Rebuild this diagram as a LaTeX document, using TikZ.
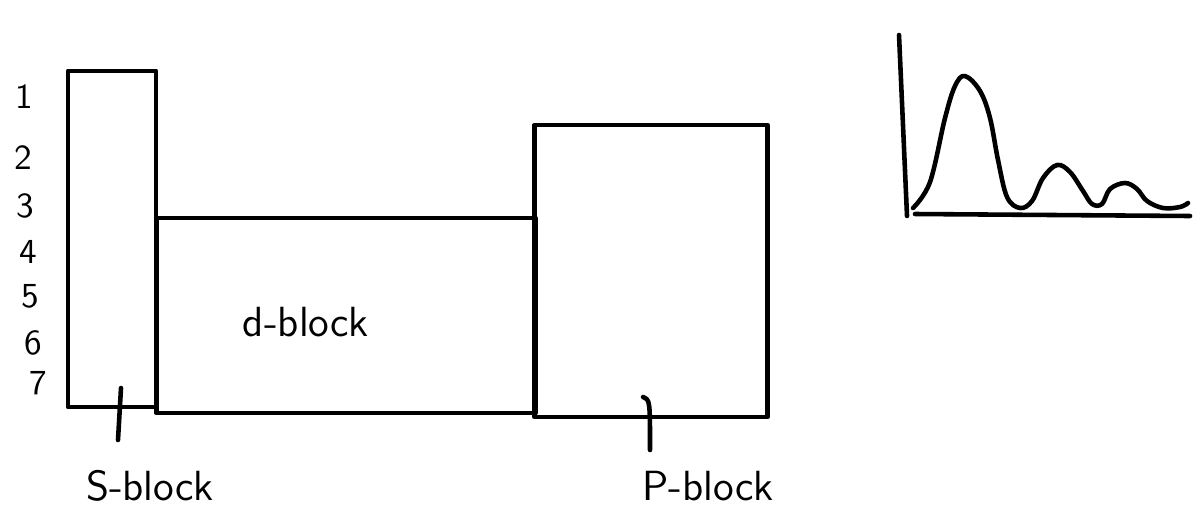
\documentclass[tikz,border=0pt]{standalone}
\usepackage{fontspec}
\begin{document}
\begin{tikzpicture}[
  x=0.01cm, y=-0.01cm,
  pen/.style={line width=1.3pt, line cap=round, line join=round},
  blockbox/.style={rectangle, draw, pen, inner sep=0pt},
  period/.style={font=\sffamily},
  blabel/.style={font=\sffamily\large},
  tick/.style={pen},
]
\useasboundingbox (0,0) rectangle (1195,512);

% ══ Column positions ══
\def\xs{112}
\def\xd{346}
\def\xp{651}

% ══ Period numbers ══
\node[period] (n1) at (24, 97) {1};
\node[period] (n2) at (23, 158) {2};
\node[period] (n3) at (25, 206) {3};
\node[period] (n4) at (28, 252) {4};
\node[period] (n5) at (30, 296) {5};
\node[period] (n6) at (33, 343) {6};
\node[period] (n7) at (38, 383) {7};

% ══ Blocks ══
\node[blockbox, minimum width=0.88cm, minimum height=3.36cm] (sblock) at (\xs, 239) {};
\node[blockbox, minimum width=3.79cm, minimum height=1.95cm] (dblock) at (\xd, 315.5) {};
\node[blockbox, minimum width=2.33cm, minimum height=2.92cm] (pblock) at (\xp, 271) {};

\node[font=\sffamily\large] (dtext) at (306, 322) {d-block};

% ══ Block labels ══
\node[blabel] (slabel) at (150, 486) {S-block};
\node[blabel] (plabel) at (708, 486) {P-block};

\coordinate (stick) at (121, 388);
\coordinate (stickend) at (118, 440);
\coordinate (ptick) at (643, 397);
\coordinate (ptickend) at (650, 450);
\draw[tick] (stick) -- (stickend);
\draw[tick] (ptick) .. controls (650, 400) .. (ptickend);

% ══ Spectrum sketch ══
\coordinate (ytop) at (899, 35);
\coordinate (origin) at (907, 216);
\coordinate (xstart) at (915, 214);
\coordinate (xend) at (1190, 216);
\draw[pen] (ytop) -- (origin);
\draw[pen] (xstart) -- (xend);

\draw[pen] plot[smooth, tension=0.6] coordinates {
  (913,208) (930,182) (945,118) (955,86) (965,76) (980,91) (990,118)
  (998,160) (1007,197) (1020,208) (1032,201) (1043,178) (1057,165)
  (1070,172) (1083,191) (1092,204) (1102,204) (1110,189) (1125,183)
  (1137,189) (1147,201) (1163,208) (1180,207) (1188,203)};

\end{tikzpicture}
\end{document}
